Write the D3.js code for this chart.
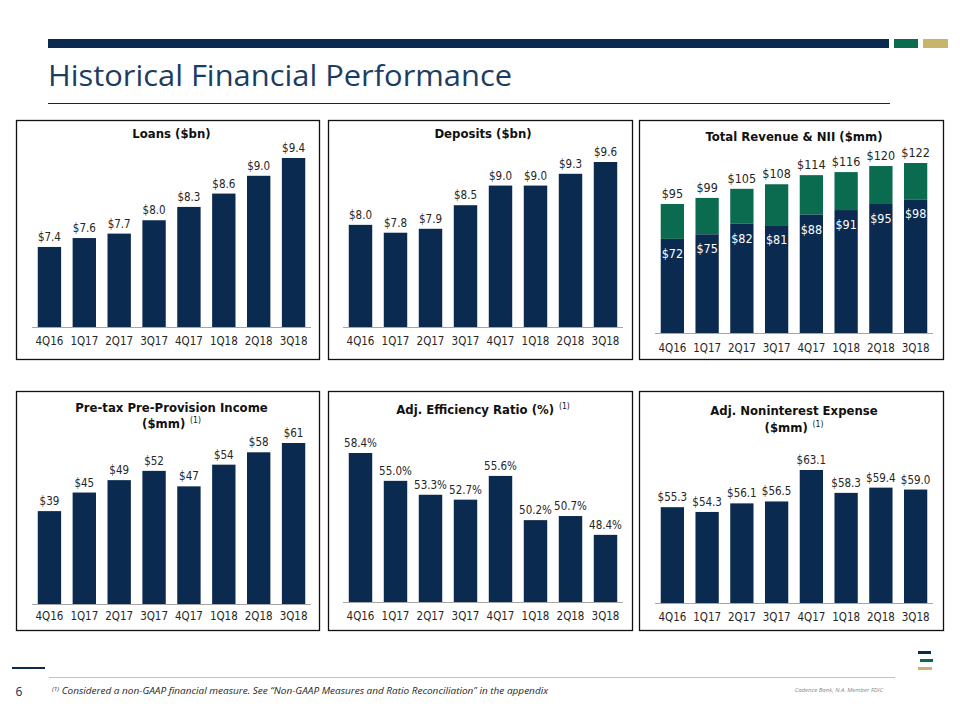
<!DOCTYPE html>
<html><head><meta charset="utf-8">
<script src="https://cdn.jsdelivr.net/npm/d3@7"></script>
<style>
html,body{margin:0;padding:0;background:#fff;}
svg{display:block;}
</style></head>
<body>
<svg id="chart" width="960" height="720"></svg>
<script>
// ---------- DATA ----------
const quarters = ["4Q16","1Q17","2Q17","3Q17","4Q17","1Q18","2Q18","3Q18"];
const loans = [7.4, 7.6, 7.7, 8.0, 8.3, 8.6, 9.0, 9.4];
const deposits = [8.0, 7.8, 7.9, 8.5, 9.0, 9.0, 9.3, 9.6];
const totalRevenue = [95, 99, 105, 108, 114, 116, 120, 122];
const netInterestIncome = [72, 75, 82, 81, 88, 91, 95, 98];
const ppnr = [39, 45, 49, 52, 47, 54, 58, 61];
const efficiencyRatio = [58.4, 55.0, 53.3, 52.7, 55.6, 50.2, 50.7, 48.4];
const nonintExpense = [55.3, 54.3, 56.1, 56.5, 63.1, 58.3, 59.4, 59.0];

const pageTitle = "Historical Financial Performance";
const footnote = "Considered a non-GAAP financial measure. See \u201CNon-GAAP Measures and Ratio Reconciliation\u201D in the appendix";
const brandNote = "Cadence Bank, N.A. Member FDIC";
const pageNumber = "6";

// ---------- STYLE ----------
const NAVY = "#0b2a4f", GREEN = "#0b6b4f", GOLD = "#c9b46b";
const TXT = "#262626";
const FONT = "'DejaVu Sans Condensed','DejaVu Sans',sans-serif";

const svg = d3.select("#chart");

// header
svg.append("rect").attr("x",48).attr("y",39).attr("width",841).attr("height",9).attr("fill",NAVY);
svg.append("rect").attr("x",894).attr("y",39).attr("width",24).attr("height",9).attr("fill",GREEN);
svg.append("rect").attr("x",923).attr("y",39).attr("width",25).attr("height",9).attr("fill",GOLD);
svg.append("text").attr("x",48).attr("y",86)
  .attr("font-family","'Open Sans',sans-serif").attr("font-weight",400).attr("font-size",30)
  .attr("fill","#1c3d63").attr("textLength",464).attr("lengthAdjust","spacingAndGlyphs")
  .text(pageTitle);
svg.append("line").attr("x1",48).attr("x2",890).attr("y1",103.5).attr("y2",103.5).attr("stroke","#222").attr("stroke-width",1);

// panel frames
const frames = [
  [16,120,303,239],[328,120,304,239],[639,120,304,239],
  [16,391,303,239],[328,391,304,239],[639,391,304,239]
];
frames.forEach(f=>{
  svg.append("rect").attr("x",f[0]+0.5).attr("y",f[1]+0.5).attr("width",f[2]).attr("height",f[3])
    .attr("fill","none").attr("stroke","#111").attr("stroke-width",1.3);
});

function panel(cfg){
  const g = svg.append("g");
  const x = d3.scaleBand().domain(quarters).range(cfg.xr).paddingInner(0.33).paddingOuter(0.165);
  const y = d3.scaleLinear().domain(cfg.yd).range(cfg.yr);
  const cx = (cfg.xr[0]+cfg.xr[1])/2;
  // title
  cfg.title.forEach((t,i)=>{
    const tt = g.append("text").attr("x",cx).attr("y",cfg.titleY[i]).attr("text-anchor","middle")
      .attr("font-family",FONT).attr("font-weight","bold").attr("font-size",13).attr("fill","#111");
    tt.append("tspan").text(t.text);
    if(t.sup){
      tt.append("tspan").attr("font-size",8.5).attr("font-weight","normal").attr("dy",-5).text("\u00A0\u00A0(1)");
    }
  });
  // bars
  if(cfg.stack){
    const top = cfg.stack.total, bottom = cfg.stack.base;
    g.selectAll(".b2").data(quarters).join("rect")
      .attr("x",d=>x(d)).attr("width",x.bandwidth())
      .attr("y",(d,i)=>y(top[i])).attr("height",(d,i)=>y(bottom[i])-y(top[i])).attr("fill",GREEN);
    g.selectAll(".b1").data(quarters).join("rect")
      .attr("x",d=>x(d)).attr("width",x.bandwidth())
      .attr("y",(d,i)=>y(bottom[i])).attr("height",(d,i)=>y(cfg.yd[0])-y(bottom[i])).attr("fill",NAVY);
    g.selectAll(".l2").data(quarters).join("text")
      .attr("x",d=>x(d)+x.bandwidth()/2).attr("y",(d,i)=>y(top[i])-6).attr("text-anchor","middle")
      .attr("font-family",FONT).attr("font-size",12.5).attr("fill",TXT).text((d,i)=>cfg.fmt(top[i]));
    g.selectAll(".l1").data(quarters).join("text")
      .attr("x",d=>x(d)+x.bandwidth()/2).attr("y",(d,i)=>y(bottom[i])+19).attr("text-anchor","middle")
      .attr("font-family",FONT).attr("font-size",12.5).attr("fill","#fff").text((d,i)=>cfg.fmt(bottom[i]));
  } else {
    g.selectAll(".b").data(quarters).join("rect")
      .attr("x",d=>x(d)).attr("width",x.bandwidth())
      .attr("y",(d,i)=>y(cfg.values[i])).attr("height",(d,i)=>y(cfg.yd[0])-y(cfg.values[i])).attr("fill",NAVY);
    g.selectAll(".l").data(quarters).join("text")
      .attr("x",d=>x(d)+x.bandwidth()/2).attr("y",(d,i)=>y(cfg.values[i])-6).attr("text-anchor","middle")
      .attr("font-family",FONT).attr("font-size",11.5).attr("fill",TXT).text((d,i)=>cfg.fmt(cfg.values[i]));
  }
  // axis
  const ax = g.append("g").attr("transform",`translate(0,${cfg.yr[0]})`)
    .call(d3.axisBottom(x).tickSize(0).tickPadding(cfg.tickPad));
  ax.select(".domain").attr("stroke","#a6a6a6").attr("stroke-width",1).attr("d",`M${cfg.xr[0]},0.5H${cfg.xr[1]}`);
  ax.selectAll("text").attr("font-family",FONT).attr("font-size",11.5).attr("fill",TXT);
}

const fmt1 = v=>"$"+d3.format(".1f")(v);
const fmt0 = v=>"$"+d3.format(".0f")(v);
const fmtPct = v=>d3.format(".1f")(v)+"%";

panel({xr:[32,311], yd:[5.6,9.4], yr:[327,158], values:loans, fmt:fmt1, tickPad:10,
  title:[{text:"Loans ($bn)"}], titleY:[138]});
panel({xr:[343,623], yd:[5.4,9.6], yr:[327,162], values:deposits, fmt:fmt1, tickPad:10,
  title:[{text:"Deposits ($bn)"}], titleY:[138]});
panel({xr:[655,933], yd:[10,122], yr:[333,163], stack:{total:totalRevenue, base:netInterestIncome}, fmt:fmt0, tickPad:11,
  title:[{text:"Total Revenue & NII ($mm)"}], titleY:[141]});
panel({xr:[32,311], yd:[9,61], yr:[604,443], values:ppnr, fmt:fmt0, tickPad:8,
  title:[{text:"Pre-tax Pre-Provision Income"},{text:"($mm)",sup:true}], titleY:[412,428]});
panel({xr:[343,623], yd:[40.2,58.4], yr:[602,453], values:efficiencyRatio, fmt:fmtPct, tickPad:10,
  title:[{text:"Adj. Efficiency Ratio (%)",sup:true}], titleY:[414]});
panel({xr:[655,933], yd:[35.2,63.1], yr:[603,470], values:nonintExpense, fmt:fmt1, tickPad:10,
  title:[{text:"Adj. Noninterest Expense"},{text:"($mm)",sup:true}], titleY:[415,432]});

// footer
svg.append("rect").attr("x",12).attr("y",667).attr("width",33).attr("height",2).attr("fill",NAVY);
svg.append("line").attr("x1",49).attr("x2",895).attr("y1",677.5).attr("y2",677.5).attr("stroke","#bfbfbf");
svg.append("text").attr("x",19).attr("y",696).attr("text-anchor","middle")
  .attr("font-family","'Open Sans',sans-serif").attr("font-size",12).attr("fill",NAVY).text(pageNumber);
const fn = svg.append("text").attr("x",52).attr("y",694)
  .attr("font-family","'Open Sans',sans-serif").attr("font-style","italic").attr("font-size",9.5).attr("fill","#262626")
  .attr("textLength",496).attr("lengthAdjust","spacingAndGlyphs");
fn.append("tspan").attr("font-size",6).attr("dy",-3).text("(1)");
fn.append("tspan").attr("dy",3).text(" "+footnote);
svg.append("text").attr("x",883).attr("y",692).attr("text-anchor","end")
  .attr("font-family","'Open Sans',sans-serif").attr("font-style","italic").attr("font-size",6).attr("fill","#888").text(brandNote);
// logo
svg.append("rect").attr("x",918).attr("y",651).attr("width",13).attr("height",3).attr("fill",NAVY);
svg.append("rect").attr("x",920).attr("y",659).attr("width",13).attr("height",3).attr("fill",GREEN);
svg.append("rect").attr("x",918).attr("y",667).attr("width",14).attr("height",3).attr("fill",GOLD);
</script>
</body></html>
